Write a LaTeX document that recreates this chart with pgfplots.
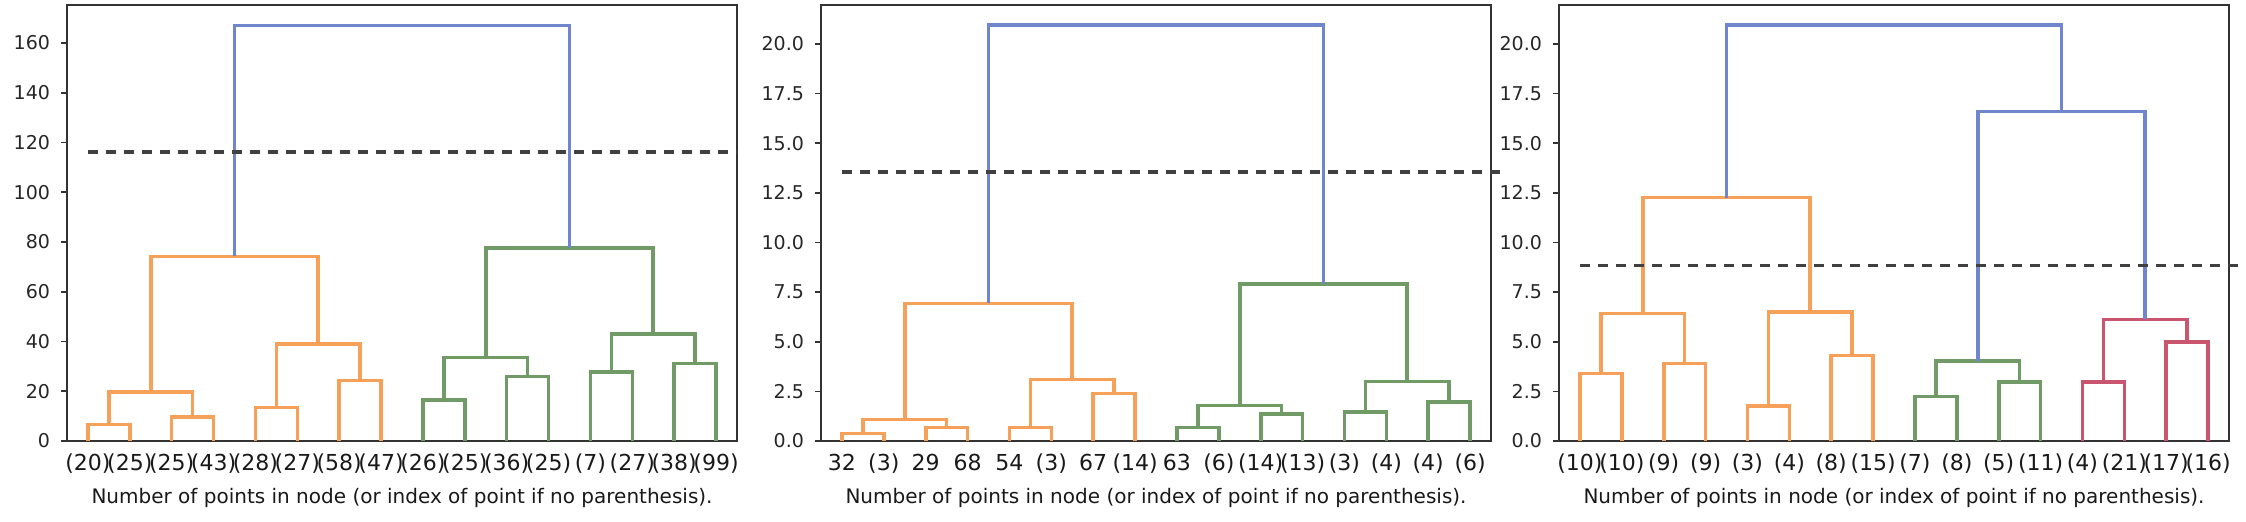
\documentclass[border=0pt]{standalone}
\usepackage{fontspec}
\setmainfont{DejaVu Sans}
\usepackage{pgfplots}
\pgfplotsset{compat=1.18}
\definecolor{cblue}{HTML}{6F86CC}
\definecolor{corange}{HTML}{F7A05A}
\definecolor{cgreen}{HTML}{709A66}
\definecolor{cred}{HTML}{C9556F}
\definecolor{cdash}{HTML}{404040}
\pgfplotsset{dendro/.style={
  scale only axis, width=335pt, height=218pt, anchor=north west,
  xmin=-0.5, xmax=15.5, ymin=0,
  xtick={0,...,15}, major x tick style={draw=none},
  tick align=outside, ytick pos=left, xtick pos=bottom,
  major tick length=3pt,
  axis line style={draw=black!80, line width=0.8pt},
  major y tick style={draw=black!80, line width=0.8pt},
  /pgf/number format/assume math mode=true,
  yticklabel style={font=\fontsize{9.5}{11}\selectfont, text=black!85, xshift=-2pt},
  xticklabel style={font=\fontsize{11}{13}\selectfont, text=black!90},
  xlabel={Number of points in node (or index of point if no parenthesis).},
  xlabel style={font=\fontsize{10}{12}\selectfont, text=black!90, at={(axis description cs:0.5,0)}, anchor=center, yshift=-28.5pt},
  clip=false,
  every axis plot/.append style={line width=1.8pt, mark=none},
}}
\begin{document}
\begin{tikzpicture}
\useasboundingbox (0,0) rectangle (1123pt,-261pt);
% Panel 1
\begin{axis}[dendro, at={(33.5pt,-2.5pt)}, ymax=175.3,
  ytick={0,20,...,160},
  xticklabels={(20),(25),(25),(43),(28),(27),(58),(47),(26),(25),(36),(25),(7),(27),(38),(99)}]
\addplot[corange] coordinates {(0,0)(0,6.7)(1,6.7)(1,0)};
\addplot[corange] coordinates {(2,0)(2,9.6)(3,9.6)(3,0)};
\addplot[corange] coordinates {(0.5,6.7)(0.5,19.7)(2.5,19.7)(2.5,9.6)};
\addplot[corange] coordinates {(4,0)(4,13.4)(5,13.4)(5,0)};
\addplot[corange] coordinates {(6,0)(6,24.4)(7,24.4)(7,0)};
\addplot[corange] coordinates {(4.5,13.4)(4.5,39.1)(6.5,39.1)(6.5,24.4)};
\addplot[corange] coordinates {(1.5,19.7)(1.5,74.2)(5.5,74.2)(5.5,39.1)};
\addplot[cgreen] coordinates {(8,0)(8,16.6)(9,16.6)(9,0)};
\addplot[cgreen] coordinates {(10,0)(10,26.0)(11,26.0)(11,0)};
\addplot[cgreen] coordinates {(8.5,16.6)(8.5,33.5)(10.5,33.5)(10.5,26.0)};
\addplot[cgreen] coordinates {(12,0)(12,27.7)(13,27.7)(13,0)};
\addplot[cgreen] coordinates {(14,0)(14,31.1)(15,31.1)(15,0)};
\addplot[cgreen] coordinates {(12.5,27.7)(12.5,43.1)(14.5,43.1)(14.5,31.1)};
\addplot[cgreen] coordinates {(9.5,33.5)(9.5,77.5)(13.5,77.5)(13.5,43.1)};
\addplot[cblue] coordinates {(3.5,74.2)(3.5,167.0)(11.5,167.0)(11.5,77.5)};
\addplot[cdash, line width=1.8pt, dash pattern=on 5pt off 4pt] coordinates {(0,116.2)(15.5,116.2)};
\end{axis}
% Panel 2
\begin{axis}[dendro, at={(410.5pt,-2.5pt)}, ymax=21.96,
  ytick={0,2.5,...,20}, yticklabel style={/pgf/number format/.cd, fixed, fixed zerofill, precision=1},
  xticklabels={32,(3),29,68,54,(3),67,(14),63,(6),(14),(13),(3),(4),(4),(6)}]
\addplot[corange] coordinates {(0,0)(0,0.37)(1,0.37)(1,0)};
\addplot[corange] coordinates {(2,0)(2,0.67)(3,0.67)(3,0)};
\addplot[corange] coordinates {(0.5,0.37)(0.5,1.08)(2.5,1.08)(2.5,0.67)};
\addplot[corange] coordinates {(4,0)(4,0.67)(5,0.67)(5,0)};
\addplot[corange] coordinates {(6,0)(6,2.39)(7,2.39)(7,0)};
\addplot[corange] coordinates {(4.5,0.67)(4.5,3.09)(6.5,3.09)(6.5,2.39)};
\addplot[corange] coordinates {(1.5,1.08)(1.5,6.93)(5.5,6.93)(5.5,3.09)};
\addplot[cgreen] coordinates {(8,0)(8,0.67)(9,0.67)(9,0)};
\addplot[cgreen] coordinates {(10,0)(10,1.35)(11,1.35)(11,0)};
\addplot[cgreen] coordinates {(8.5,0.67)(8.5,1.78)(10.5,1.78)(10.5,1.35)};
\addplot[cgreen] coordinates {(12,0)(12,1.45)(13,1.45)(13,0)};
\addplot[cgreen] coordinates {(14,0)(14,1.97)(15,1.97)(15,0)};
\addplot[cgreen] coordinates {(12.5,1.45)(12.5,2.99)(14.5,2.99)(14.5,1.97)};
\addplot[cgreen] coordinates {(9.5,1.78)(9.5,7.91)(13.5,7.91)(13.5,2.99)};
\addplot[cblue] coordinates {(3.5,6.93)(3.5,20.96)(11.5,20.96)(11.5,7.91)};
\addplot[cdash, line width=1.8pt, dash pattern=on 5pt off 4pt] coordinates {(0,13.56)(15.9,13.56)};
\end{axis}
% Panel 3
\begin{axis}[dendro, at={(779.5pt,-2.5pt)}, ymax=21.96,
  ytick={0,2.5,...,20}, yticklabel style={/pgf/number format/.cd, fixed, fixed zerofill, precision=1},
  xticklabels={(10),(10),(9),(9),(3),(4),(8),(15),(7),(8),(5),(11),(4),(21),(17),(16)}]
\addplot[corange] coordinates {(0,0)(0,3.40)(1,3.40)(1,0)};
\addplot[corange] coordinates {(2,0)(2,3.90)(3,3.90)(3,0)};
\addplot[corange] coordinates {(0.5,3.40)(0.5,6.43)(2.5,6.43)(2.5,3.90)};
\addplot[corange] coordinates {(4,0)(4,1.75)(5,1.75)(5,0)};
\addplot[corange] coordinates {(6,0)(6,4.31)(7,4.31)(7,0)};
\addplot[corange] coordinates {(4.5,1.75)(4.5,6.51)(6.5,6.51)(6.5,4.31)};
\addplot[corange] coordinates {(1.5,6.43)(1.5,12.26)(5.5,12.26)(5.5,6.51)};
\addplot[cgreen] coordinates {(8,0)(8,2.25)(9,2.25)(9,0)};
\addplot[cgreen] coordinates {(10,0)(10,2.98)(11,2.98)(11,0)};
\addplot[cgreen] coordinates {(8.5,2.25)(8.5,4.02)(10.5,4.02)(10.5,2.98)};
\addplot[cred] coordinates {(12,0)(12,2.98)(13,2.98)(13,0)};
\addplot[cred] coordinates {(14,0)(14,5.00)(15,5.00)(15,0)};
\addplot[cred] coordinates {(12.5,2.98)(12.5,6.12)(14.5,6.12)(14.5,5.00)};
\addplot[cblue] coordinates {(9.5,4.02)(9.5,16.59)(13.5,16.59)(13.5,6.12)};
\addplot[cblue] coordinates {(3.5,12.26)(3.5,20.96)(11.5,20.96)(11.5,16.59)};
\addplot[cdash, line width=1.8pt, dash pattern=on 5pt off 4pt] coordinates {(0,8.83)(15.9,8.83)};
\end{axis}
\end{tikzpicture}
\end{document}
